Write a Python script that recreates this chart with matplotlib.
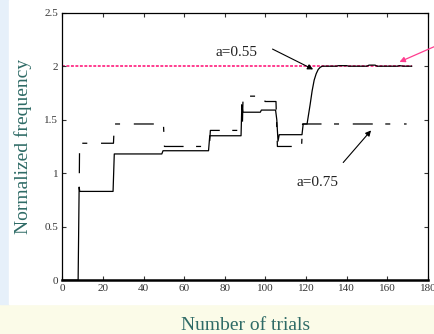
import matplotlib
matplotlib.use("Agg")
import matplotlib.pyplot as plt
from matplotlib.patches import Rectangle

# === DATA ===
# a = 0.55 (solid)
x_055 = [0, 7.8, 8.3, 8.6, 25.0, 25.6, 49.0, 49.6, 72.0, 72.6, 88.0, 88.4, 88.9,
         97.5, 98.0, 105.0, 105.6, 106.2, 106.8, 118.0, 118.6, 120.5, 121, 122,
         123, 124, 125, 126, 127, 128, 135, 136, 140, 141, 150, 151, 154, 155,
         165, 166, 168, 172]
y_055 = [0, 0, 0.87, 0.83, 0.83, 1.18, 1.18, 1.21, 1.21, 1.35, 1.35, 1.64, 1.57,
         1.57, 1.59, 1.59, 1.50, 1.30, 1.36, 1.36, 1.46, 1.46, 1.52, 1.64,
         1.77, 1.87, 1.93, 1.97, 1.99, 2.0, 2.0, 2.005, 2.005, 2.0, 2.0, 2.01, 2.01, 2.0,
         2.0, 2.005, 2.0, 2.0]

# a = 0.75 (dash-dot)
x_075 = [8.4, 8.5, 8.6, 25.2, 25.6, 49.8, 50.3, 72.4, 72.9, 88.6, 89.0, 99.5,
         99.8, 105.2, 105.9, 117.8, 118.3, 169.5]
y_075 = [1.0, 1.23, 1.28, 1.28, 1.46, 1.46, 1.25, 1.25, 1.40, 1.40, 1.72, 1.72,
         1.67, 1.67, 1.25, 1.25, 1.46, 1.46]

# reference level
ref_x = [0, 172]
ref_y = [2.0, 2.0]

xticks = [0, 20, 40, 60, 80, 100, 120, 140, 160, 180]
yticks = [0, 0.5, 1, 1.5, 2, 2.5]
ytick_labels = ["0", "0.5", "1", "1.5", "2", "2.5"]

serif = "Liberation Serif"
label_color = "#2f6b66"
pink = "#ff3d8f"

# === PLOT ===
fig = plt.figure(figsize=(4.34, 3.34), dpi=100)
fig.patch.set_facecolor("#fbfbe8")
# pale slide background: blue-ish strip at left, white panel behind the chart
fig.patches.append(Rectangle((0, 0.09), 0.02, 0.91, transform=fig.transFigure,
                             color="#e6f0fa", zorder=-2))
fig.patches.append(Rectangle((0.02, 0.09), 0.98, 0.91, transform=fig.transFigure,
                             color="white", zorder=-1))

ax = fig.add_axes([0.1435, 0.161, 0.8425, 0.801])

ax.plot(ref_x, ref_y, color=pink, lw=1.4, linestyle=(0, (1.5, 0.8)), zorder=1)
ax.plot(x_055, y_055, color="black", lw=0.9, zorder=3)
ax.plot(x_075, y_075, color="black", lw=0.9, dashes=[16, 10, 4, 11], zorder=2)

# labels and arrows
arrow = dict(arrowstyle="-|>", color="black", lw=0.8, mutation_scale=8,
             shrinkA=0, shrinkB=0)
ax.text(86, 2.13, "a=0.55", ha="center", va="center", fontsize=11,
        family=serif, color="#222222")
ax.annotate("", xy=(123.5, 1.97), xytext=(103.5, 2.16), arrowprops=arrow)
ax.text(125.5, 0.91, "a=0.75", ha="center", va="center", fontsize=11,
        family=serif, color="#222222")
ax.annotate("", xy=(152, 1.40), xytext=(138.3, 1.10), arrowprops=arrow)
ax.annotate("", xy=(166, 2.04), xytext=(184, 2.19), annotation_clip=False,
            arrowprops=dict(arrowstyle="-|>", color=pink, lw=0.9,
                            mutation_scale=8, shrinkA=0, shrinkB=0))

ax.set_xlim(0, 180)
ax.set_ylim(0, 2.5)
ax.set_xticks(xticks)
ax.set_yticks(yticks)
ax.set_yticklabels(ytick_labels)
ax.tick_params(direction="in", length=3, width=0.8, top=True, right=True,
               labelsize=8, colors="#333333", pad=3)
for lab in ax.get_xticklabels() + ax.get_yticklabels():
    lab.set_family(serif)
for side in ["top", "right", "left"]:
    ax.spines[side].set_linewidth(0.9)
ax.spines["bottom"].set_linewidth(1.8)

ax.set_ylabel("Normalized frequency", family=serif, fontsize=14, color=label_color,
              labelpad=9)
ax.set_xlabel("Number of trials", family=serif, fontsize=14, color=label_color,
              labelpad=17)

fig.savefig("out.png", dpi=100, facecolor=fig.get_facecolor())
